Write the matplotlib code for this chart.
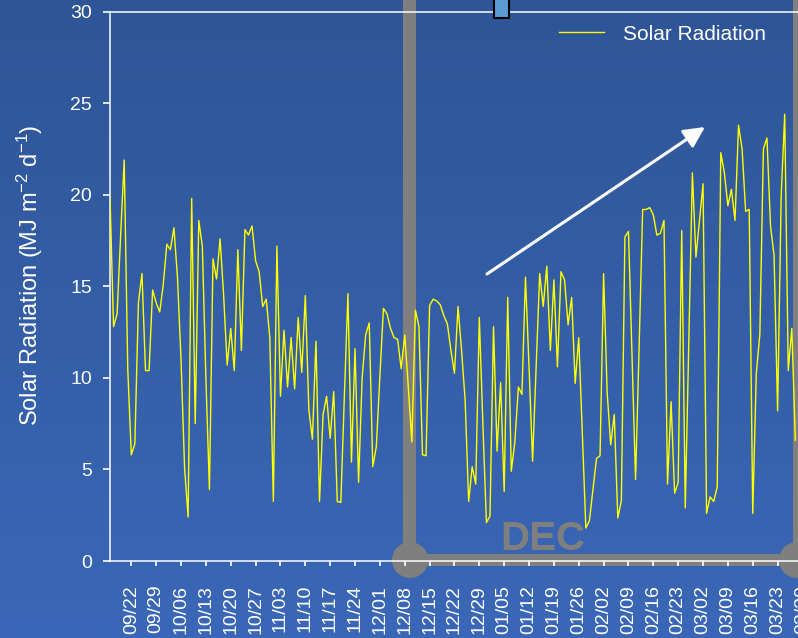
import numpy as np
import pandas as pd
import matplotlib
matplotlib.use("Agg")
import matplotlib.pyplot as plt
import matplotlib.dates as mdates
from matplotlib.colors import LinearSegmentedColormap
from matplotlib.patches import Rectangle, Ellipse, FancyArrowPatch

plt.rcParams['font.family'] = ['Liberation Sans', 'DejaVu Sans']
plt.rcParams['mathtext.default'] = 'regular'

# daily solar radiation (MJ m-2 d-1), month by month
sep = [19.9, 12.8, 13.5, 17.8, 21.9, 10.5, 5.8, 6.4, 14.1, 15.7, 10.4, 10.4, 14.8, 14.1, 13.6]
octo = [15.1, 17.3, 17.0, 18.2, 15.5, 11.0, 5.1, 2.4, 19.8, 7.5, 18.6, 17.2, 10.0, 3.9, 16.5,
        15.4, 17.6, 14.5, 10.7, 12.7, 10.4, 17.0, 11.5, 18.1, 17.8, 18.3, 16.4, 15.8, 13.9, 14.3,
        12.2]
nov = [3.25, 17.2, 9.0, 12.6, 9.5, 12.2, 9.4, 13.3, 10.3, 14.5, 8.25, 6.65, 12.0, 3.25, 8.0,
       9.0, 6.7, 9.25, 3.25, 3.2, 9.0, 14.6, 5.4, 11.6, 4.3, 10.0, 12.35, 13.0, 5.15, 6.25]
dec = [10.1, 13.8, 13.5, 12.7, 12.2, 12.1, 10.5, 12.35, 9.5, 6.5, 13.7, 12.8, 5.8, 5.75, 13.95,
       14.3, 14.2, 14.0, 13.4, 12.95, 11.5, 10.25, 13.9, 11.5, 8.8, 3.25, 5.15, 4.2, 13.3, 7.5,
       2.1]
jan = [2.45, 12.8, 6.0, 9.75, 3.8, 14.4, 4.9, 6.5, 9.5, 9.1, 15.5, 10.6, 5.45, 10.6, 15.7,
       13.9, 16.1, 11.5, 15.35, 10.6, 15.8, 15.35, 12.9, 14.4, 9.7, 12.2, 7.0, 1.8, 2.2, 3.9,
       5.6]
feb = [5.75, 15.7, 9.2, 6.35, 8.0, 2.35, 3.3, 17.7, 18.0, 11.3, 4.45, 11.7, 19.2, 19.2, 19.3,
       18.9, 17.8, 17.9, 18.6, 4.2, 8.7, 3.7, 4.3, 18.05, 2.9, 12.1, 21.2, 16.6]
mar = [18.6, 20.6, 2.6, 3.5, 3.25, 4.05, 22.3, 21.2, 19.4, 20.3, 18.6, 23.8, 22.5, 19.1, 19.2,
       2.6, 10.25, 12.4, 22.5, 23.1, 18.3, 16.7, 8.2, 19.9, 24.4, 10.4, 12.7, 6.6]

radiation = sep + octo + nov + dec + jan + feb + mar
dates = pd.date_range("2018-09-16", periods=len(radiation), freq="D")
tick_dates = pd.date_range("2018-09-22", "2019-03-30", freq="7D")

W, H = 798, 638
fig = plt.figure(figsize=(W / 100, H / 100), dpi=100)


def fx(px):
    return px / W


def fy(py):
    return 1 - py / H


# blue gradient background
bg = fig.add_axes([0, 0, 1, 1], zorder=-1)
grad = np.linspace(0, 1, 256).reshape(-1, 1)
cmap = LinearSegmentedColormap.from_list("bg", ["#2e5597", "#3a67b7"])
bg.imshow(grad, aspect="auto", cmap=cmap, extent=[0, 1, 0, 1], origin="upper")
bg.axis("off")

# the plot area runs past the right edge of the picture
ax = fig.add_axes([fx(110), fy(561), (830 - 110) / W, (561 - 11.7) / H])
ax.set_facecolor("none")

px_per_day = (778 - 131.7) / 182
x0 = mdates.date2num(dates[0])
ax.set_xlim(x0, x0 + (830 - 110) / px_per_day)
ax.set_ylim(0, 30)

ax.plot(dates, radiation, color="#ffff00", lw=1.0, label="Solar Radiation", zorder=3)

ax.set_xticks(tick_dates)
ax.xaxis.set_major_formatter(mdates.DateFormatter("%m/%d"))
ax.set_yticks(range(0, 31, 5))
ax.tick_params(axis="x", colors="white", labelsize=14, labelrotation=90,
               length=3.6, width=1.2, pad=13.5)
ax.tick_params(axis="y", colors="white", labelsize=14, length=5, width=1.2, pad=8)
for side in ["left", "bottom", "top"]:
    ax.spines[side].set_color("white")
    ax.spines[side].set_linewidth(1.1)
ax.spines["right"].set_visible(False)

# grey frame around December (drawn under the line, over the background)
grey = "#7f7f7f"
frame = [
    Rectangle((fx(403), fy(560)), 13 / W, 580 / H),
    Rectangle((fx(793), fy(560)), 13 / W, 580 / H),
    Rectangle((fx(410), fy(566)), 400 / W, 12 / H),
    Ellipse((fx(410), fy(560)), 36 / W, 36 / H),
    Ellipse((fx(797), fy(560)), 36 / W, 36 / H),
]
for p in frame:
    p.set_facecolor(grey)
    p.set_edgecolor("none")
    p.set_transform(fig.transFigure)
    p.set_clip_on(False)
    p.set_zorder(1)
    ax.add_patch(p)

fig.text(fx(543), fy(550), "DEC", color=grey, fontsize=29, fontweight="bold",
         ha="center", va="baseline")

fig.add_artist(Rectangle((fx(494), fy(18)), 15 / W, 30 / H, facecolor="#5b9bd5",
                         edgecolor="black", lw=1.5, transform=fig.transFigure))

fig.add_artist(FancyArrowPatch((fx(487), fy(274)), (fx(705), fy(127)),
                               transform=fig.transFigure,
                               arrowstyle="-|>,head_length=0.9,head_width=0.45",
                               mutation_scale=14, color="white", lw=2.2,
                               shrinkA=0, shrinkB=0))

ax.legend(loc="center left", bbox_to_anchor=(fx(559), fy(34)),
          bbox_transform=fig.transFigure, frameon=False, fontsize=15,
          labelcolor="white", handlelength=2.15, handletextpad=0.9,
          borderpad=0, borderaxespad=0)

fig.text(fx(30), fy(275), "Solar Radiation (MJ m$^{-2}$ d$^{-1}$)", rotation=90,
         ha="center", va="center", color="white", fontsize=17)

fig.savefig("out.png", dpi=100)
